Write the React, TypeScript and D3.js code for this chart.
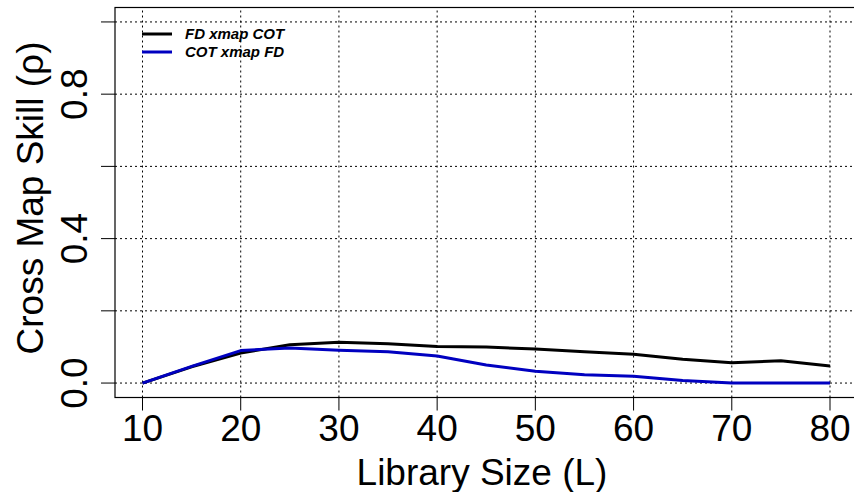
import * as d3 from "d3";

const libSizes = [10, 15, 20, 25, 30, 35, 40, 45, 50, 55, 60, 65, 70, 75, 80];
const fdXmapCot = [0, 0.045, 0.083, 0.106, 0.113, 0.109, 0.101, 0.1, 0.094, 0.087, 0.08, 0.066, 0.056, 0.062, 0.047];
const cotXmapFd = [0, 0.046, 0.09, 0.097, 0.091, 0.087, 0.075, 0.05, 0.033, 0.023, 0.019, 0.007, 0, 0, 0];
const xTicks = [10, 20, 30, 40, 50, 60, 70, 80];
const yTicks = [0, 0.2, 0.4, 0.6, 0.8, 1.0];
const yLabels = [0, 0.4, 0.8];
const legendItems = [
  { name: "FD xmap COT", color: "#000000" },
  { name: "COT xmap FD", color: "#0000c0" },
];

const W = 854;
const H = 492;
const font = "'Liberation Sans', Arial, sans-serif";

export default function App() {
  // R style: axis range padded by 4% on each side
  const x = d3.scaleLinear().domain([7.2, 82.8]).range([115, 857.5]);
  const y = d3.scaleLinear().domain([-0.04, 1.04]).range([397.5, 7.5]);

  const line = d3
    .line<number>()
    .x((_, i) => x(libSizes[i]))
    .y((d) => y(d));

  const series = [fdXmapCot, cotXmapFd];

  return (
    <svg
      width={W}
      height={H}
      style={{ position: "absolute", left: 0, top: 0, background: "#fff" }}
    >
      {/* grid */}
      <g stroke="#000" strokeWidth={1} strokeDasharray="2,3">
        {xTicks.map((t) => (
          <line key={"gx" + t} x1={x(t)} x2={x(t)} y1={y(-0.04)} y2={y(1.04)} />
        ))}
        {yTicks.map((t) => (
          <line key={"gy" + t} x1={x(7.2)} x2={x(82.8)} y1={y(t)} y2={y(t)} />
        ))}
      </g>

      {/* series */}
      {series.map((s, i) => (
        <path
          key={i}
          d={line(s) ?? ""}
          fill="none"
          stroke={legendItems[i].color}
          strokeWidth={3}
          strokeLinejoin="round"
        />
      ))}

      {/* box */}
      <rect
        x={x(7.2)}
        y={y(1.04)}
        width={x(82.8) - x(7.2)}
        height={y(-0.04) - y(1.04)}
        fill="none"
        stroke="#000"
        strokeWidth={1.2}
      />

      {/* x axis */}
      <g fontFamily={font} fontSize={37} textAnchor="middle" fill="#000">
        {xTicks.map((t) => (
          <g key={"xt" + t}>
            <line x1={x(t)} x2={x(t)} y1={y(-0.04)} y2={y(-0.04) + 13} stroke="#000" />
            <text x={x(t)} y={441}>{t}</text>
          </g>
        ))}
        <text x={482} y={485}>Library Size (L)</text>
      </g>

      {/* y axis */}
      <g fontFamily={font} fontSize={37} textAnchor="middle" fill="#000">
        {yTicks.map((t) => (
          <line key={"yt" + t} x1={x(7.2) - 14} x2={x(7.2)} y1={y(t)} y2={y(t)} stroke="#000" />
        ))}
        {yLabels.map((t) => (
          <text key={"yl" + t} transform={`translate(87,${y(t)}) rotate(-90)`}>
            {t.toFixed(1)}
          </text>
        ))}
        <text transform={`translate(43,198) rotate(-90)`}>Cross Map Skill (ρ)</text>
      </g>

      {/* legend */}
      <g fontFamily={font} fontSize={15} fontWeight="bold" fontStyle="italic">
        {legendItems.map((d, i) => (
          <g key={d.name} transform={`translate(0,${34 + i * 18})`}>
            <line x1={142} x2={172} y1={0} y2={0} stroke={d.color} strokeWidth={3} />
            <text x={185} y={5} fill="#000">{d.name}</text>
          </g>
        ))}
      </g>
    </svg>
  );
}
